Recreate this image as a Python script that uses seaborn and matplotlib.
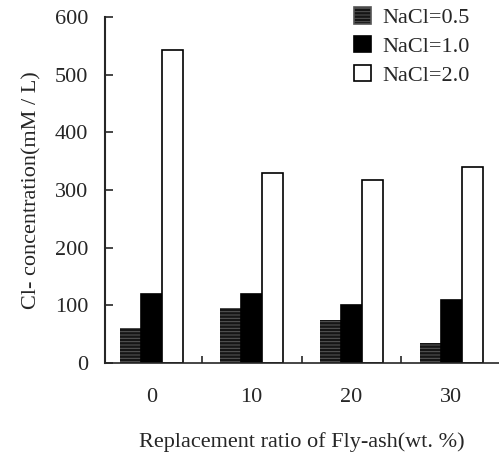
import numpy as np
import pandas as pd
import matplotlib
matplotlib.use("Agg")
import matplotlib.pyplot as plt
import seaborn as sns

# Data
ratios = ["0", "10", "20", "30"]
nacl_05 = [60, 95, 74, 35]
nacl_10 = [120, 120, 100, 110]
nacl_20 = [542, 330, 318, 340]
series_names = ["NaCl=0.5", "NaCl=1.0", "NaCl=2.0"]

df = pd.DataFrame({
    "ratio": ratios * 3,
    "value": nacl_05 + nacl_10 + nacl_20,
    "series": [series_names[0]] * 4 + [series_names[1]] * 4 + [series_names[2]] * 4,
})

sns.set_style("ticks")
plt.rcParams["font.family"] = ["Liberation Serif", "DejaVu Serif"]
plt.rcParams["hatch.linewidth"] = 0.7

FS = 16

fig = plt.figure(figsize=(4.99, 4.57), dpi=100)
ax = fig.add_axes([0.2104, 0.2057, 0.79, 0.7573])

sns.barplot(data=df, x="ratio", y="value", hue="series", order=ratios,
            hue_order=series_names, palette=["#151515", "#000000", "#ffffff"],
            width=0.63, gap=0, edgecolor="black", linewidth=1.2,
            saturation=1, ax=ax, legend=True)

# first series: dark bars with faint horizontal hatching
for patch in ax.containers[0]:
    patch.set_hatch("-----")
    patch.set_edgecolor("#5a5a5a")
    patch.set_linewidth(0)

ax.set_ylim(0, 600)
ax.set_xlim(-0.47, 3.48)
ax.set_yticks([0, 100, 200, 300, 400, 500, 600])
ax.tick_params(axis="y", direction="in", length=6, width=1.2, labelsize=FS, pad=12)
ax.tick_params(axis="x", which="major", length=0, labelsize=FS, pad=18)
ax.set_xticks([0.5, 1.5, 2.5], minor=True)
ax.tick_params(axis="x", which="minor", direction="in", length=5, width=1.2)

for side in ["top", "right"]:
    ax.spines[side].set_visible(False)
ax.spines["left"].set_linewidth(1.5)
ax.spines["bottom"].set_linewidth(1.2)

ax.set_xlabel("Replacement ratio of Fly-ash(wt. %)", fontsize=FS, labelpad=18)
ax.set_ylabel("Cl- concentration(mM / L)", fontsize=FS, labelpad=10)

leg = ax.legend(loc="upper right", bbox_to_anchor=(0.975, 1.085), frameon=False,
                fontsize=FS, handlelength=0.75, handleheight=0.75,
                labelspacing=0.35, handletextpad=0.5)
leg.legend_handles[0].set_hatch("-----")
leg.legend_handles[0].set_edgecolor("#555555")

fig.savefig("out.png", dpi=100)
